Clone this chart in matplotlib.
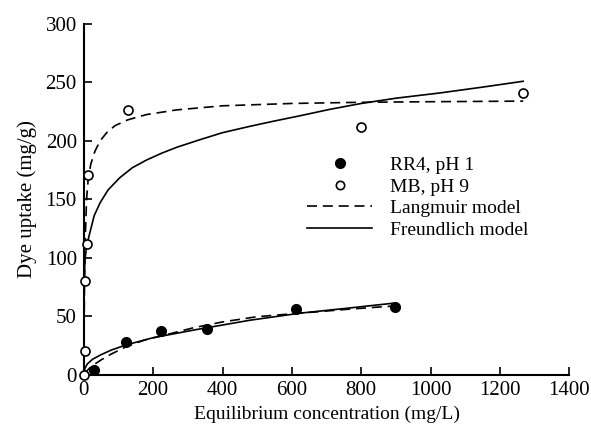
import matplotlib
matplotlib.use("Agg")
import matplotlib.pyplot as plt
from matplotlib.lines import Line2D

plt.rcParams['font.family'] = ['Liberation Serif', 'DejaVu Serif']

# measured points
rr4_x = [28, 123, 224, 355, 612, 896]
rr4_y = [3.5, 28, 37, 39, 56, 57.5]
mb_x = [0, 2.5, 4, 9, 12, 127, 799, 1266]
mb_y = [0, 20, 80, 112, 171, 226, 212, 241]

# model curves
rr4_lang_x = [0, 10, 22, 50, 79, 124, 175, 250, 316, 400, 500, 624, 768, 892]
rr4_lang_y = [0, 3.5, 7, 12.5, 17.5, 24, 29.5, 35, 40, 45, 49.5, 52.5, 56, 58.6]
rr4_freu_x = [0, 3, 10, 25, 50, 80, 124, 200, 316, 480, 624, 768, 892]
rr4_freu_y = [0, 5, 9, 13, 17, 21, 25.5, 31.5, 38, 46.5, 52.5, 57, 61]
mb_lang_x = [0, 1, 2, 4, 8, 12, 20, 32, 47, 66, 90, 127, 181, 268, 400, 600, 800, 1000, 1267]
mb_lang_y = [0, 45, 75, 115, 150, 165, 180, 191, 200, 207, 213, 218, 222.5, 226.5, 230, 232, 233, 233.5, 234]
mb_freu_x = [0, 0.5, 1.5, 3.5, 8, 18, 30, 47, 70, 104, 140, 181, 225, 268, 335, 400, 480, 550, 624, 710, 800, 900, 1027, 1150, 1267]
mb_freu_y = [0, 62, 85, 98, 110, 122, 136, 147, 158, 168.5, 177, 183.6, 189.5, 194.5, 201, 207, 212.5, 217, 221.5, 227, 232, 236.5, 241, 246, 251]

fig = plt.figure(figsize=(5.91, 4.32), dpi=100)
ax = fig.add_axes([0.1418, 0.1331, 0.8215, 0.8113])

dash = (6, 3.5)
ax.plot(rr4_lang_x, rr4_lang_y, color='black', lw=1.2, dashes=dash)
ax.plot(rr4_freu_x, rr4_freu_y, color='black', lw=1.2)
ax.plot(mb_lang_x, mb_lang_y, color='black', lw=1.2, dashes=dash)
ax.plot(mb_freu_x, mb_freu_y, color='black', lw=1.2)

ax.plot(rr4_x, rr4_y, 'o', color='black', ms=7, zorder=5)
ax.plot(mb_x, mb_y, 'o', mfc='white', mec='black', mew=1.2, ms=6.5, zorder=5, clip_on=False)

ax.set_xlim(0, 1400)
ax.set_ylim(0, 300)
ax.set_xticks(range(0, 1401, 200))
ax.set_yticks(range(0, 301, 50))
for s in ['top', 'right']:
    ax.spines[s].set_visible(False)
for s in ['left', 'bottom']:
    ax.spines[s].set_linewidth(1.5)
ax.tick_params(direction='in', length=6, width=1.2, labelsize=15, pad=5)

ax.set_xlabel('Equilibrium concentration (mg/L)', fontsize=14, labelpad=4)
ax.set_ylabel('Dye uptake (mg/g)', fontsize=15, labelpad=6)

handles = [
    Line2D([], [], ls='none', marker='o', color='black', ms=7),
    Line2D([], [], ls='none', marker='o', mfc='white', mec='black', mew=1.2, ms=6),
    Line2D([], [], color='black', lw=1.2, dashes=dash),
    Line2D([], [], color='black', lw=1.2),
]
labels = ['RR4, pH 1', 'MB, pH 9', 'Langmuir model', 'Freundlich model']
ax.legend(handles, labels, loc='upper left', bbox_to_anchor=(0.44, 0.65),
          frameon=False, fontsize=14, handlelength=3.35, handletextpad=0.93,
          labelspacing=0.2, numpoints=1, borderpad=0)

plt.savefig('out.png', dpi=100)
